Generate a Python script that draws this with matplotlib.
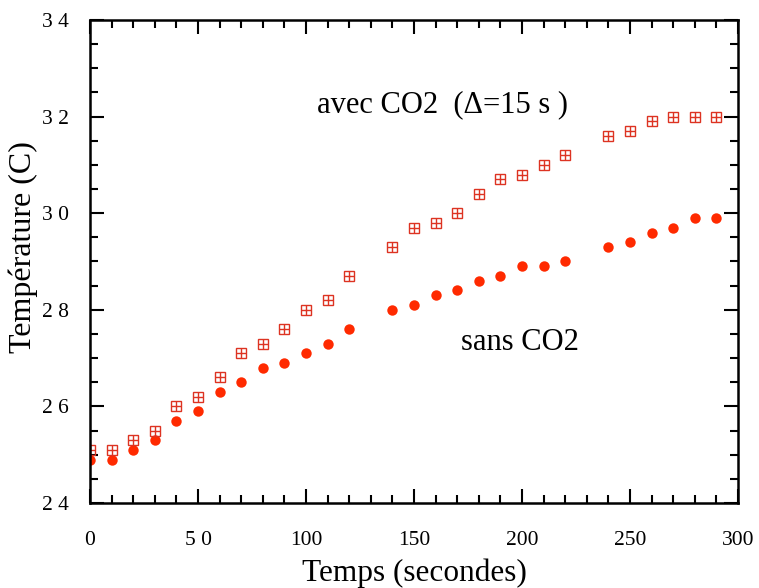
import matplotlib.pyplot as plt
from matplotlib.ticker import MultipleLocator, FixedLocator, FixedFormatter

# Données
temps_avec = [0, 10, 20, 30, 40, 50, 60, 70, 80, 90, 100, 110, 120,
              140, 150, 160, 170, 180, 190, 200, 210, 220,
              240, 250, 260, 270, 280, 290]
temp_avec = [25.1, 25.1, 25.3, 25.5, 26.0, 26.2, 26.6, 27.1, 27.3, 27.6, 28.0, 28.2, 28.7,
             29.3, 29.7, 29.8, 30.0, 30.4, 30.7, 30.8, 31.0, 31.2,
             31.6, 31.7, 31.9, 32.0, 32.0, 32.0]
temps_sans = temps_avec
temp_sans = [24.9, 24.9, 25.1, 25.3, 25.7, 25.9, 26.3, 26.5, 26.8, 26.9, 27.1, 27.3, 27.6,
             28.0, 28.1, 28.3, 28.4, 28.6, 28.7, 28.9, 28.9, 29.0,
             29.3, 29.4, 29.6, 29.7, 29.9, 29.9]

xticks = [0, 50, 100, 150, 200, 250, 300]
xlabels = ['0', '5 0', '100', '150', '200', '250', '300']
yticks = [24, 26, 28, 30, 32, 34]
ylabels = ['2 4', '2 6', '2 8', '3 0', '3 2', '3 4']

plt.rcParams['font.family'] = ['Liberation Serif', 'DejaVu Serif']

fig = plt.figure(figsize=(7.59, 5.88), dpi=100)
ax = fig.add_axes([0.1186, 0.1446, 0.8537, 0.8214])

rouge = '#ff2a00'
rouge_carre = '#dd3322'

# sans CO2 : ronds pleins
ax.plot(temps_sans, temp_sans, 'o', color=rouge, markersize=7.5, markeredgewidth=0)
# avec CO2 : carrés avec croix
ax.plot(temps_avec, temp_avec, 's', markerfacecolor='none', markeredgecolor=rouge_carre,
        markersize=7, markeredgewidth=1.0)
ax.plot(temps_avec, temp_avec, '+', color=rouge_carre, markersize=7, markeredgewidth=1.0)

ax.text(163, 32.24, 'avec CO2  (\u0394=15 s )', fontsize=22, ha='center', va='center')
ax.text(199, 27.33, 'sans CO2', fontsize=22, ha='center', va='center')

ax.set_xlim(0, 300)
ax.set_ylim(24, 34)
ax.xaxis.set_major_locator(FixedLocator(xticks))
ax.xaxis.set_major_formatter(FixedFormatter(xlabels))
ax.xaxis.set_minor_locator(MultipleLocator(10))
ax.yaxis.set_major_locator(FixedLocator(yticks))
ax.yaxis.set_major_formatter(FixedFormatter(ylabels))
ax.yaxis.set_minor_locator(MultipleLocator(0.5))
ax.tick_params(which='both', direction='in', top=True, right=True, width=1.5, labelsize=15.5)
ax.tick_params(axis='x', which='major', length=10, pad=20)
ax.tick_params(axis='y', which='major', length=10, pad=15)
ax.tick_params(which='minor', length=6)
for s in ax.spines.values():
    s.set_linewidth(1.8)

ax.set_xlabel('Temps (secondes)', fontsize=22.5, labelpad=6)
ax.set_ylabel('Température (C)', fontsize=23, labelpad=6)
ax.yaxis.set_label_coords(-0.08, 0.53)

fig.savefig('out.png', dpi=100)
